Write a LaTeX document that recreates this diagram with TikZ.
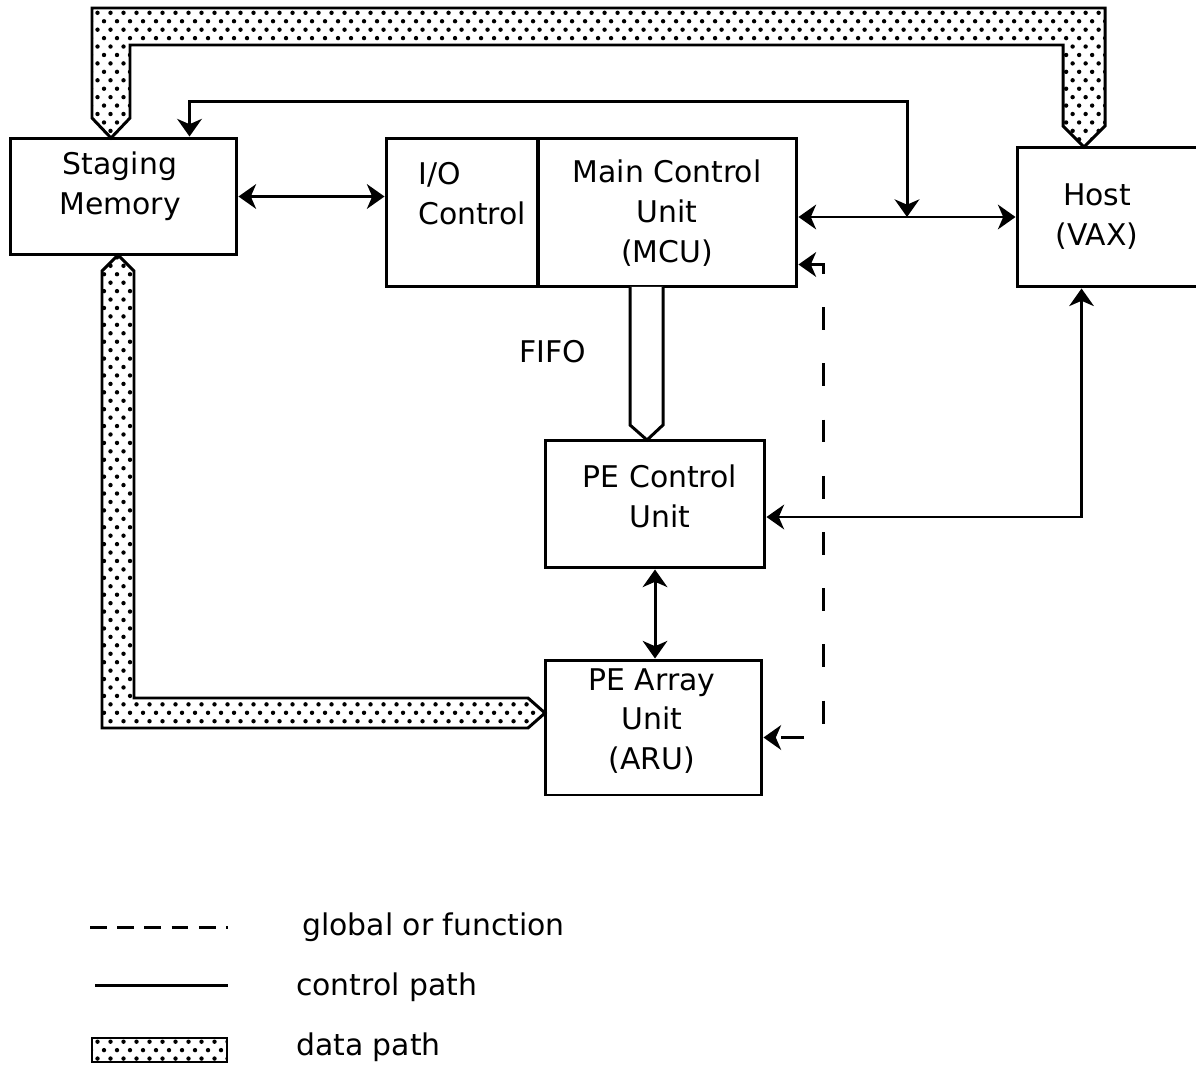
\documentclass[tikz,border=0pt]{standalone}
\usepackage{fontspec}
\setmainfont{DejaVu Sans}
\usetikzlibrary{arrows.meta,calc,patterns}

% staggered dots for the data paths
\pgfdeclarepatternformonly{busdots}{\pgfqpoint{-2pt}{-2pt}}{\pgfqpoint{9pt}{11pt}}{\pgfqpoint{7.4pt}{9.6pt}}{%
  \pgfpathcircle{\pgfqpoint{0pt}{0pt}}{1.25pt}%
  \pgfpathcircle{\pgfqpoint{3.7pt}{4.8pt}}{1.25pt}%
  \pgfusepath{fill}}

\begin{document}
\begin{tikzpicture}[x=0.02cm,y=-0.02cm,
  box/.style={draw,line width=1.7pt,inner sep=0pt},
  txt/.style={font=\fontsize{17}{22.7}\selectfont,align=center},
  ctl/.style={line width=1.7pt},
  dsh/.style={line width=1.7pt,dash pattern=on 13pt off 19pt},
  bus/.style={line width=1.7pt,pattern=busdots},
  >={Stealth[length=10pt,width=14pt,inset=3pt]}]
  \useasboundingbox (0,0) rectangle (1196,1067);

  % units
  \node[box,minimum width=4.54cm,minimum height=2.34cm] (stage) at (123.5,196.5) {};
  \node[box,minimum width=3.04cm,minimum height=2.98cm] (ioc) at (462,212.5) {};
  \node[box,minimum width=5.18cm,minimum height=2.98cm] (mcu) at (667.5,212.5) {};
  \node[box,minimum width=4cm,minimum height=2.8cm] (host) at (1117,217) {};
  \node[box,minimum width=4.4cm,minimum height=2.56cm] (pecu) at (655,504) {};
  \node[box,minimum width=4.34cm,minimum height=2.7cm] (aru) at (653.5,727.5) {};

  \node[txt] (stage-t) at (120,186) {Staging\\Memory};
  \node[txt,align=left,anchor=west] (ioc-t) at (412,194) {I/O\\Control};
  \node[txt] (mcu-t) at (667,213) {Main Control\\Unit\\(MCU)};
  \node[txt] (host-t) at (1097,217) {Host\\(VAX)};
  \node[txt] (pecu-t) at (660,496) {PE Control\\Unit};
  \node[txt] (aru-t) at (652,721) {PE Array\\Unit\\(ARU)};
  \node[txt] (fifo) at (553,352) {FIFO};

  % data paths
  \draw[bus] (111,138) -- (130,118) -- (130,45) -- (1063,45) -- (1063,126)
    -- (1084,147) -- (1105,126) -- (1105,8) -- (92,8) -- (92,118) -- cycle;
  \draw[bus] (118,255) -- (134,271) -- (134,698) -- (528,698) -- (545,713)
    -- (528,728) -- (102,728) -- (102,271) -- cycle;
  \draw[ctl,fill=white] (630,287) -- (630,425) -- (647,440) -- (663,425) -- (663,287);

  % control paths
  \coordinate (jn) at ($(host.west)!0.5!(host.west -| mcu.east)$);
  \draw[ctl,<->] (stage.east) -- (stage.east -| ioc.west);
  \draw[ctl,<->] (host.west -| mcu.east) -- (host.west);
  \draw[ctl,<->] ($(stage.north)+(66,0)$) -- ++(0,-35) -| (jn);
  \draw[ctl,<->] (pecu.south) -- (pecu.south |- aru.north);
  \draw[ctl,<->] ($(host.south west)+(66,0)$) |- ($(pecu.east)+(0,13)$);
  \draw[dsh,<->] ($(mcu.east)+(0,52)$) -- ++(25,0) |- ($(aru.east)+(0,10)$);

  % legend
  \draw[line width=1.7pt,dash pattern=on 9.5pt off 6pt] (90,927) -- (228,927);
  \draw[ctl] (95,985) -- (228,985);
  \draw[line width=1.2pt,pattern=busdots] (92,1038) rectangle (227,1062);
  \node[txt,anchor=west] (leg-g) at (296,927) {global or function};
  \node[txt,anchor=west] (leg-c) at (290,987) {control path};
  \node[txt,anchor=west] (leg-d) at (290,1047) {data path};
\end{tikzpicture}
\end{document}
